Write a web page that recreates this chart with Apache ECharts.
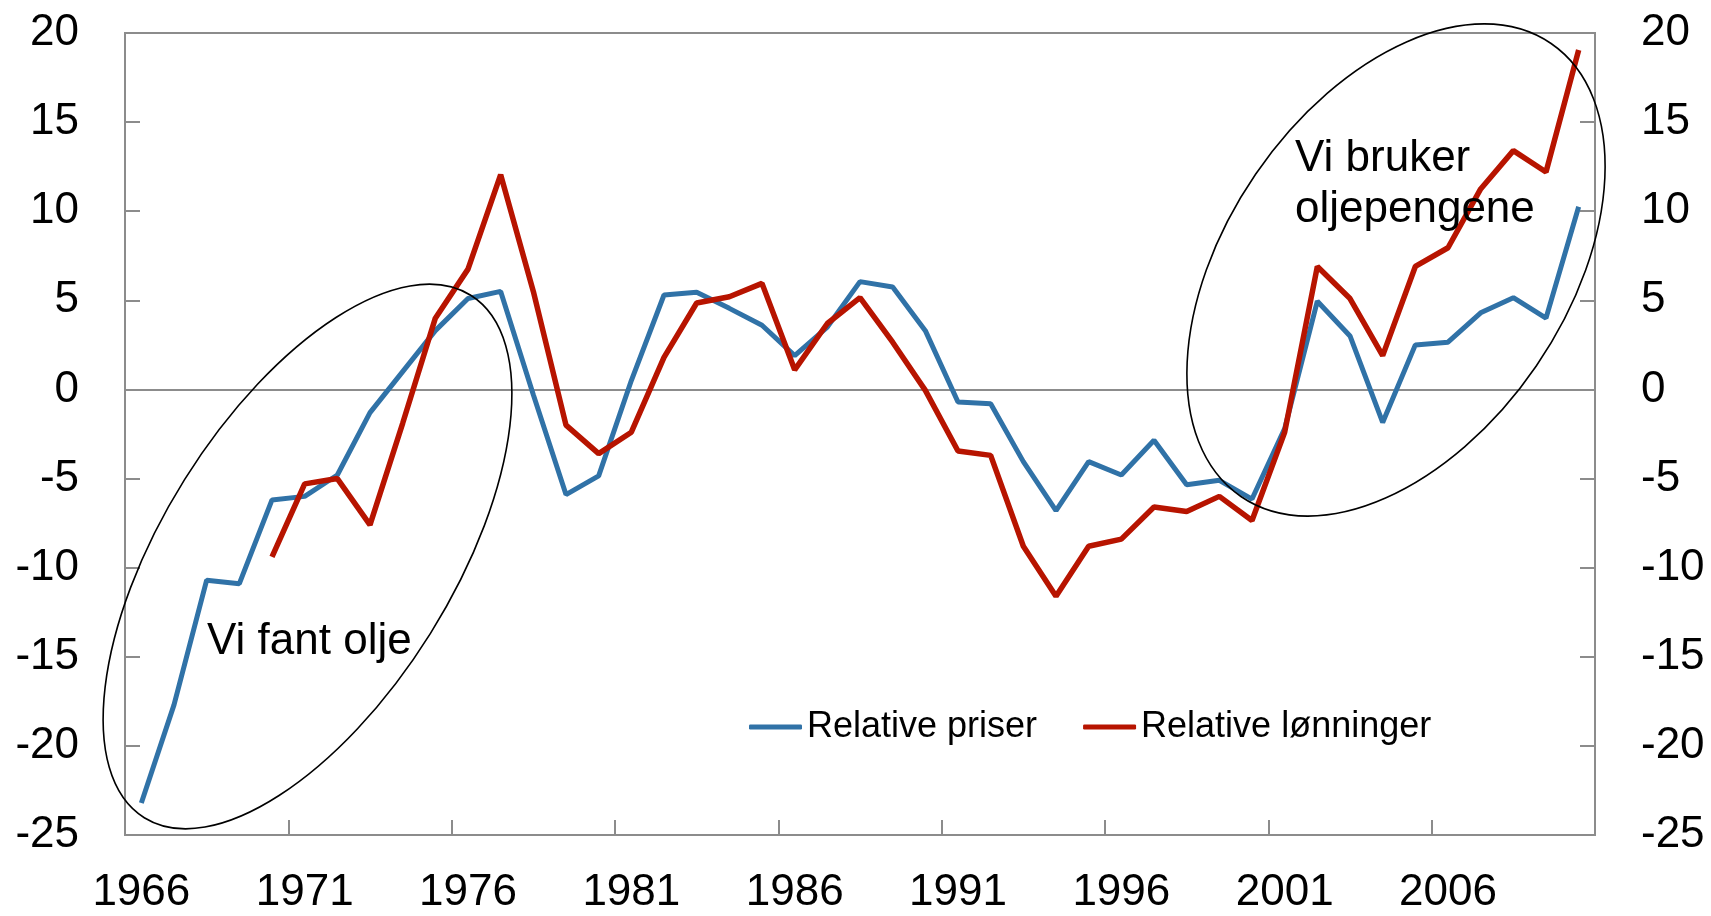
<!DOCTYPE html>
<html lang="no">

<head>
    <meta charset="UTF-8">
    <title>Relative priser og lønninger</title>
    <script src="https://cdn.jsdelivr.net/npm/echarts@6/dist/echarts.min.js"></script>
    <style>
        html, body { margin: 0; padding: 0; background: #fff; }
        #chart { position: absolute; left: 0; top: 0; width: 1711px; height: 916px; }
    </style>
</head>

<body>
    <div id="chart"></div>
    <script>
        // år (kategorier)
        var years = ['1966', '1967', '1968', '1969', '1970', '1971', '1972', '1973', '1974', '1975',
            '1976', '1977', '1978', '1979', '1980', '1981', '1982', '1983', '1984', '1985',
            '1986', '1987', '1988', '1989', '1990', '1991', '1992', '1993', '1994', '1995',
            '1996', '1997', '1998', '1999', '2000', '2001', '2002', '2003', '2004', '2005',
            '2006', '2007', '2008', '2009', '2010'];

        // Relative priser
        var priser = [-23.2, -17.7, -10.7, -10.9, -6.2, -6.0, -4.8, -1.3, 1.0, 3.3,
            5.1, 5.5, -0.3, -5.9, -4.85, 0.5, 5.3, 5.45, 4.55, 3.6,
            1.9, 3.5, 6.05, 5.75, 3.3, -0.7, -0.8, -4.05, -6.8, -4.05,
            -4.8, -2.85, -5.35, -5.1, -6.15, -2.2, 4.95, 3.0, -1.85, 2.5,
            2.65, 4.3, 5.15, 4.0, 10.25];

        // Relative lønninger (fra 1970)
        var lonninger = [null, null, null, null, -9.4, -5.3, -5.0, -7.6, -1.9, 4.0,
            6.75, 12.05, 5.5, -2.0, -3.6, -2.4, 1.8, 4.85, 5.2, 5.95,
            1.1, 3.7, 5.15, 2.65, -0.05, -3.45, -3.7, -8.8, -11.6, -8.8,
            -8.4, -6.6, -6.85, -6.0, -7.35, -2.4, 6.9, 5.1, 1.9, 6.9,
            7.95, 11.25, 13.4, 12.2, 19.05];

        var seriesNames = ['Relative priser', 'Relative lønninger'];
        var font = 'Liberation Sans';
        var frameColor = '#8c8c8c';

        var myChart = echarts.init(document.getElementById('chart'));

        function yAxisFor(position) {
            return {
                type: 'value',
                position: position,
                min: -25,
                max: 20,
                interval: 5,
                axisLine: { show: true, lineStyle: { color: frameColor, width: 2 } },
                axisTick: { show: true, inside: true, length: 15, lineStyle: { color: frameColor, width: 2 } },
                splitLine: { show: false },
                axisLabel: {
                    margin: 46,
                    color: '#000',
                    fontSize: 44,
                    fontFamily: font
                }
            };
        }

        var option = {
            animation: false,
            backgroundColor: '#fff',
            grid: {
                left: 125,
                right: 116,
                top: 33,
                bottom: 81,
                show: true,
                borderColor: frameColor,
                borderWidth: 2
            },
            legend: {
                left: 744,
                top: 704,
                icon: 'roundRect',
                itemWidth: 53,
                itemHeight: 5,
                itemGap: 46,
                textStyle: { fontSize: 36, color: '#000', fontFamily: font },
                data: seriesNames
            },
            xAxis: {
                type: 'category',
                boundaryGap: true,
                data: years,
                axisLine: { show: true, onZero: false, lineStyle: { color: frameColor, width: 2 } },
                axisTick: {
                    show: true,
                    inside: true,
                    length: 15,
                    interval: 4,
                    alignWithLabel: false,
                    lineStyle: { color: frameColor, width: 2 }
                },
                axisLabel: {
                    interval: 4,
                    margin: 36,
                    color: '#000',
                    fontSize: 44,
                    fontFamily: font
                }
            },
            yAxis: [yAxisFor('left'), yAxisFor('right')],
            series: [
                {
                    name: seriesNames[0],
                    type: 'line',
                    symbol: 'none',
                    color: '#3072a7',
                    lineStyle: { width: 5, color: '#3072a7' },
                    data: priser,
                    markLine: {
                        silent: true,
                        symbol: 'none',
                        label: { show: false },
                        lineStyle: { color: frameColor, width: 2, type: 'solid' },
                        data: [{ yAxis: 0 }],
                        z: 1
                    },
                    z: 3
                },
                {
                    name: seriesNames[1],
                    type: 'line',
                    symbol: 'none',
                    color: '#b71400',
                    lineStyle: { width: 5.5, color: '#b71400' },
                    data: lonninger,
                    z: 4
                }
            ],
            graphic: [
                {
                    type: 'ellipse',
                    x: 307.5,
                    y: 556.5,
                    rotation: 58 * Math.PI / 180,
                    shape: { cx: 0, cy: 0, rx: 308, ry: 145 },
                    style: { fill: 'none', stroke: '#000', lineWidth: 1.6 },
                    z: 10
                },
                {
                    type: 'ellipse',
                    x: 1396,
                    y: 270,
                    rotation: 55.6 * Math.PI / 180,
                    shape: { cx: 0, cy: 0, rx: 274.5, ry: 170 },
                    style: { fill: 'none', stroke: '#000', lineWidth: 1.6 },
                    z: 10
                },
                {
                    type: 'text',
                    x: 207,
                    y: 642,
                    style: {
                        text: 'Vi fant olje',
                        fontSize: 44,
                        fontFamily: font,
                        fill: '#000',
                        verticalAlign: 'middle'
                    },
                    z: 11
                },
                {
                    type: 'text',
                    x: 1295,
                    y: 184,
                    style: {
                        text: 'Vi bruker\noljepengene',
                        fontSize: 44,
                        lineHeight: 51,
                        fontFamily: font,
                        fill: '#000',
                        verticalAlign: 'middle'
                    },
                    z: 11
                }
            ]
        };
        myChart.setOption(option);
    </script>
</body>

</html>
